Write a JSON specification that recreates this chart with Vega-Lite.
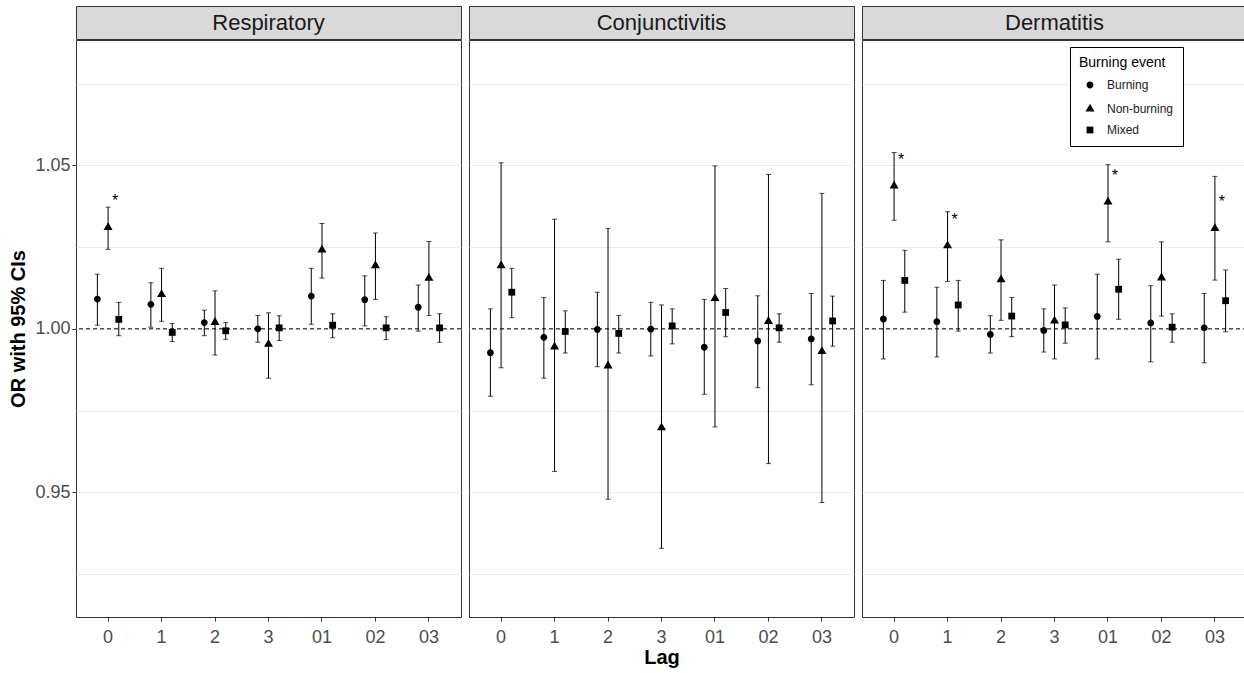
{
  "$schema": "https://vega.github.io/schema/vega-lite/v6.json",
  "padding": {"left": 8, "top": 5, "right": 0, "bottom": 0},
  "background": "white",
  "config": {
    "font": "Liberation Sans",
    "view": {"stroke": "#333333", "strokeWidth": 1},
    "axis": {
      "labelFont": "Liberation Sans", "labelFontSize": 18, "labelColor": "#4D4D4D",
      "tickColor": "#333333", "tickSize": 4, "tickWidth": 1,
      "gridColor": "#EBEBEB", "gridWidth": 1, "domain": false,
      "titleFont": "Liberation Sans", "titleFontSize": 20, "titleFontWeight": "bold", "titleColor": "black",
      "labelPadding": 2
    },
    "axisX": {"labelPadding": 7},
    "legend": {
      "orient": "none", "legendX": 994, "legendY": 41,
      "strokeColor": "black", "fillColor": "white", "padding": 9,
      "titleFont": "Liberation Sans", "titleFontSize": 14, "titleFontWeight": "normal", "titleColor": "black",
      "labelFont": "Liberation Sans", "labelFontSize": 12, "labelColor": "#1A1A1A",
      "symbolSize": 64, "symbolFillColor": "black", "symbolStrokeColor": "black",
      "rowPadding": 8, "symbolOffset": 5, "labelOffset": 11, "titlePadding": 9
    }
  },
  "data": {"values": [
    {"outcome":"Respiratory","lag":"0","event":"Burning","or":1.0091,"lo":1.0011,"hi":1.0167,"sig":""},
    {"outcome":"Respiratory","lag":"0","event":"Non-burning","or":1.0310,"lo":1.0243,"hi":1.0372,"sig":"*"},
    {"outcome":"Respiratory","lag":"0","event":"Mixed","or":1.0029,"lo":0.9979,"hi":1.0081,"sig":""},
    {"outcome":"Respiratory","lag":"1","event":"Burning","or":1.0075,"lo":1.0005,"hi":1.0141,"sig":""},
    {"outcome":"Respiratory","lag":"1","event":"Non-burning","or":1.0105,"lo":1.0023,"hi":1.0185,"sig":""},
    {"outcome":"Respiratory","lag":"1","event":"Mixed","or":0.9989,"lo":0.9961,"hi":1.0016,"sig":""},
    {"outcome":"Respiratory","lag":"2","event":"Burning","or":1.0019,"lo":0.9979,"hi":1.0057,"sig":""},
    {"outcome":"Respiratory","lag":"2","event":"Non-burning","or":1.0020,"lo":0.9920,"hi":1.0116,"sig":""},
    {"outcome":"Respiratory","lag":"2","event":"Mixed","or":0.9994,"lo":0.9968,"hi":1.0019,"sig":""},
    {"outcome":"Respiratory","lag":"3","event":"Burning","or":1.0000,"lo":0.9959,"hi":1.0041,"sig":""},
    {"outcome":"Respiratory","lag":"3","event":"Non-burning","or":0.9953,"lo":0.9849,"hi":1.0049,"sig":""},
    {"outcome":"Respiratory","lag":"3","event":"Mixed","or":1.0003,"lo":0.9964,"hi":1.0040,"sig":""},
    {"outcome":"Respiratory","lag":"01","event":"Burning","or":1.0100,"lo":1.0014,"hi":1.0185,"sig":""},
    {"outcome":"Respiratory","lag":"01","event":"Non-burning","or":1.0241,"lo":1.0155,"hi":1.0322,"sig":""},
    {"outcome":"Respiratory","lag":"01","event":"Mixed","or":1.0011,"lo":0.9973,"hi":1.0046,"sig":""},
    {"outcome":"Respiratory","lag":"02","event":"Burning","or":1.0089,"lo":1.0009,"hi":1.0162,"sig":""},
    {"outcome":"Respiratory","lag":"02","event":"Non-burning","or":1.0193,"lo":1.0090,"hi":1.0293,"sig":""},
    {"outcome":"Respiratory","lag":"02","event":"Mixed","or":1.0003,"lo":0.9967,"hi":1.0037,"sig":""},
    {"outcome":"Respiratory","lag":"03","event":"Burning","or":1.0066,"lo":0.9993,"hi":1.0134,"sig":""},
    {"outcome":"Respiratory","lag":"03","event":"Non-burning","or":1.0155,"lo":1.0041,"hi":1.0267,"sig":""},
    {"outcome":"Respiratory","lag":"03","event":"Mixed","or":1.0003,"lo":0.9959,"hi":1.0046,"sig":""},
    {"outcome":"Conjunctivitis","lag":"0","event":"Burning","or":0.9927,"lo":0.9794,"hi":1.0061,"sig":""},
    {"outcome":"Conjunctivitis","lag":"0","event":"Non-burning","or":1.0193,"lo":0.9881,"hi":1.0508,"sig":""},
    {"outcome":"Conjunctivitis","lag":"0","event":"Mixed","or":1.0112,"lo":1.0034,"hi":1.0185,"sig":""},
    {"outcome":"Conjunctivitis","lag":"1","event":"Burning","or":0.9974,"lo":0.9849,"hi":1.0096,"sig":""},
    {"outcome":"Conjunctivitis","lag":"1","event":"Non-burning","or":0.9945,"lo":0.9564,"hi":1.0335,"sig":""},
    {"outcome":"Conjunctivitis","lag":"1","event":"Mixed","or":0.9992,"lo":0.9926,"hi":1.0055,"sig":""},
    {"outcome":"Conjunctivitis","lag":"2","event":"Burning","or":0.9998,"lo":0.9884,"hi":1.0112,"sig":""},
    {"outcome":"Conjunctivitis","lag":"2","event":"Non-burning","or":0.9887,"lo":0.9479,"hi":1.0307,"sig":""},
    {"outcome":"Conjunctivitis","lag":"2","event":"Mixed","or":0.9986,"lo":0.9926,"hi":1.0041,"sig":""},
    {"outcome":"Conjunctivitis","lag":"3","event":"Burning","or":0.9999,"lo":0.9917,"hi":1.0081,"sig":""},
    {"outcome":"Conjunctivitis","lag":"3","event":"Non-burning","or":0.9698,"lo":0.9329,"hi":1.0073,"sig":""},
    {"outcome":"Conjunctivitis","lag":"3","event":"Mixed","or":1.0009,"lo":0.9954,"hi":1.0061,"sig":""},
    {"outcome":"Conjunctivitis","lag":"01","event":"Burning","or":0.9944,"lo":0.9800,"hi":1.0090,"sig":""},
    {"outcome":"Conjunctivitis","lag":"01","event":"Non-burning","or":1.0093,"lo":0.9700,"hi":1.0498,"sig":""},
    {"outcome":"Conjunctivitis","lag":"01","event":"Mixed","or":1.0050,"lo":0.9976,"hi":1.0123,"sig":""},
    {"outcome":"Conjunctivitis","lag":"02","event":"Burning","or":0.9963,"lo":0.9820,"hi":1.0101,"sig":""},
    {"outcome":"Conjunctivitis","lag":"02","event":"Non-burning","or":1.0023,"lo":0.9588,"hi":1.0472,"sig":""},
    {"outcome":"Conjunctivitis","lag":"02","event":"Mixed","or":1.0003,"lo":0.9959,"hi":1.0046,"sig":""},
    {"outcome":"Conjunctivitis","lag":"03","event":"Burning","or":0.9969,"lo":0.9829,"hi":1.0108,"sig":""},
    {"outcome":"Conjunctivitis","lag":"03","event":"Non-burning","or":0.9931,"lo":0.9469,"hi":1.0414,"sig":""},
    {"outcome":"Conjunctivitis","lag":"03","event":"Mixed","or":1.0024,"lo":0.9947,"hi":1.0100,"sig":""},
    {"outcome":"Dermatitis","lag":"0","event":"Burning","or":1.0030,"lo":0.9908,"hi":1.0148,"sig":""},
    {"outcome":"Dermatitis","lag":"0","event":"Non-burning","or":1.0437,"lo":1.0332,"hi":1.0539,"sig":"*"},
    {"outcome":"Dermatitis","lag":"0","event":"Mixed","or":1.0148,"lo":1.0051,"hi":1.0240,"sig":""},
    {"outcome":"Dermatitis","lag":"1","event":"Burning","or":1.0022,"lo":0.9914,"hi":1.0127,"sig":""},
    {"outcome":"Dermatitis","lag":"1","event":"Non-burning","or":1.0254,"lo":1.0145,"hi":1.0358,"sig":"*"},
    {"outcome":"Dermatitis","lag":"1","event":"Mixed","or":1.0073,"lo":0.9993,"hi":1.0148,"sig":""},
    {"outcome":"Dermatitis","lag":"2","event":"Burning","or":0.9983,"lo":0.9926,"hi":1.0040,"sig":""},
    {"outcome":"Dermatitis","lag":"2","event":"Non-burning","or":1.0150,"lo":1.0026,"hi":1.0272,"sig":""},
    {"outcome":"Dermatitis","lag":"2","event":"Mixed","or":1.0039,"lo":0.9976,"hi":1.0096,"sig":""},
    {"outcome":"Dermatitis","lag":"3","event":"Burning","or":0.9995,"lo":0.9929,"hi":1.0061,"sig":""},
    {"outcome":"Dermatitis","lag":"3","event":"Non-burning","or":1.0024,"lo":0.9908,"hi":1.0134,"sig":""},
    {"outcome":"Dermatitis","lag":"3","event":"Mixed","or":1.0012,"lo":0.9956,"hi":1.0064,"sig":""},
    {"outcome":"Dermatitis","lag":"01","event":"Burning","or":1.0038,"lo":0.9908,"hi":1.0167,"sig":""},
    {"outcome":"Dermatitis","lag":"01","event":"Non-burning","or":1.0388,"lo":1.0266,"hi":1.0502,"sig":"*"},
    {"outcome":"Dermatitis","lag":"01","event":"Mixed","or":1.0121,"lo":1.0029,"hi":1.0213,"sig":""},
    {"outcome":"Dermatitis","lag":"02","event":"Burning","or":1.0018,"lo":0.9899,"hi":1.0132,"sig":""},
    {"outcome":"Dermatitis","lag":"02","event":"Non-burning","or":1.0156,"lo":1.0039,"hi":1.0266,"sig":""},
    {"outcome":"Dermatitis","lag":"02","event":"Mixed","or":1.0005,"lo":0.9959,"hi":1.0046,"sig":""},
    {"outcome":"Dermatitis","lag":"03","event":"Burning","or":1.0003,"lo":0.9896,"hi":1.0108,"sig":""},
    {"outcome":"Dermatitis","lag":"03","event":"Non-burning","or":1.0307,"lo":1.0149,"hi":1.0466,"sig":"*"},
    {"outcome":"Dermatitis","lag":"03","event":"Mixed","or":1.0086,"lo":0.9991,"hi":1.0180,"sig":""}
  ]},
  "spacing": 6,
  "hconcat": [
    {
      "spacing": -1,
      "vconcat": [
        {
          "width": 385, "height": 33,
          "view": {"fill": "#D9D9D9", "stroke": "#333333"},
          "transform": [{"filter": "datum.outcome == 'Respiratory' && datum.lag == '0' && datum.event == 'Burning'"}],
          "mark": {"type": "text", "fontSize": 22, "color": "#1A1A1A", "baseline": "middle", "font": "Liberation Sans"},
          "encoding": {"x": {"field": "outcome", "type": "nominal", "axis": null}, "text": {"field": "outcome"}}
        },
        {
          "width": 385, "height": 577,
          "transform": [{"filter": "datum.outcome == 'Respiratory'"}],
          "layer": [
            {
              "mark": {"type": "rule", "color": "black", "strokeWidth": 1},
              "encoding": {
                "x": {"field": "lag", "type": "nominal", "sort": ["0","1","2","3","01","02","03"], "scale": {"type": "band", "paddingInner": 0, "paddingOuter": 0.1}, "axis": {"title": null, "labelAngle": 0}},
                "xOffset": {"field": "event", "type": "nominal", "sort": ["Burning","Non-burning","Mixed"], "scale": {"paddingInner": 0, "paddingOuter": 1.5}},
                "y": {"field": "lo", "type": "quantitative", "scale": {"domain": [0.9119, 1.0883], "nice": false, "zero": false},
                  "axis": {"title": "OR with 95% CIs", "titlePadding": 6, "values": [0.925,0.95,0.975,1,1.025,1.05,1.075],
                    "labelExpr": "(datum.value == 0.95 || datum.value == 1 || datum.value == 1.05) ? format(datum.value, '.2f') : ''",
                    "tickOpacity": {"condition": {"test": "datum.value == 0.95 || datum.value == 1 || datum.value == 1.05", "value": 1}, "value": 0}}},
                "y2": {"field": "hi"}
              }
            },
            {
              "mark": {"type": "tick", "color": "black", "thickness": 1, "size": 5, "orient": "horizontal"},
              "encoding": {
                "x": {"field": "lag", "type": "nominal", "sort": ["0","1","2","3","01","02","03"]},
                "xOffset": {"field": "event", "type": "nominal", "sort": ["Burning","Non-burning","Mixed"]},
                "y": {"field": "lo", "type": "quantitative"}
              }
            },
            {
              "mark": {"type": "tick", "color": "black", "thickness": 1, "size": 5, "orient": "horizontal"},
              "encoding": {
                "x": {"field": "lag", "type": "nominal", "sort": ["0","1","2","3","01","02","03"]},
                "xOffset": {"field": "event", "type": "nominal", "sort": ["Burning","Non-burning","Mixed"]},
                "y": {"field": "hi", "type": "quantitative"}
              }
            },
            {
              "transform": [{"filter": "datum.lag == '0' && datum.event == 'Burning'"}],
              "mark": {"type": "rule", "color": "black", "strokeWidth": 1, "strokeDash": [4, 3]},
              "encoding": {"y": {"datum": 1, "type": "quantitative"}}
            },
            {
              "mark": {"type": "point", "filled": true, "color": "black", "size": 64, "opacity": 1},
              "encoding": {
                "x": {"field": "lag", "type": "nominal", "sort": ["0","1","2","3","01","02","03"]},
                "xOffset": {"field": "event", "type": "nominal", "sort": ["Burning","Non-burning","Mixed"]},
                "y": {"field": "or", "type": "quantitative"},
                "shape": {"field": "event", "type": "nominal", "title": "Burning event", "sort": ["Burning","Non-burning","Mixed"], "scale": {"domain": ["Burning","Non-burning","Mixed"], "range": ["M-0.85,0A0.85,0.85,0,1,0,0.85,0A0.85,0.85,0,1,0,-0.85,0Z","M0,-1.3L1.125,0.65L-1.125,0.65Z","M-0.85,-0.85H0.85V0.85H-0.85Z"]}}
              }
            },
            {
              "transform": [{"filter": "datum.sig == '*'"}],
              "mark": {"type": "text", "fontSize": 16, "color": "black", "baseline": "middle", "dx": 7, "dy": -26},
              "encoding": {
                "x": {"field": "lag", "type": "nominal", "sort": ["0","1","2","3","01","02","03"]},
                "xOffset": {"field": "event", "type": "nominal", "sort": ["Burning","Non-burning","Mixed"]},
                "y": {"field": "or", "type": "quantitative"},
                "text": {"field": "sig"}
              }
            }
          ]
        }
      ]
    },
    {
      "spacing": -1,
      "vconcat": [
        {
          "width": 385, "height": 33,
          "view": {"fill": "#D9D9D9", "stroke": "#333333"},
          "transform": [{"filter": "datum.outcome == 'Conjunctivitis' && datum.lag == '0' && datum.event == 'Burning'"}],
          "mark": {"type": "text", "fontSize": 22, "color": "#1A1A1A", "baseline": "middle", "font": "Liberation Sans"},
          "encoding": {"x": {"field": "outcome", "type": "nominal", "axis": null}, "text": {"field": "outcome"}}
        },
        {
          "width": 385, "height": 577,
          "transform": [{"filter": "datum.outcome == 'Conjunctivitis'"}],
          "layer": [
            {
              "mark": {"type": "rule", "color": "black", "strokeWidth": 1},
              "encoding": {
                "x": {"field": "lag", "type": "nominal", "sort": ["0","1","2","3","01","02","03"], "scale": {"type": "band", "paddingInner": 0, "paddingOuter": 0.1}, "axis": {"title": "Lag", "labelAngle": 0, "titlePadding": 1}},
                "xOffset": {"field": "event", "type": "nominal", "sort": ["Burning","Non-burning","Mixed"], "scale": {"paddingInner": 0, "paddingOuter": 1.5}},
                "y": {"field": "lo", "type": "quantitative", "scale": {"domain": [0.9119, 1.0883], "nice": false, "zero": false},
                  "axis": {"title": null, "labels": false, "ticks": false, "values": [0.925,0.95,0.975,1,1.025,1.05,1.075]}},
                "y2": {"field": "hi"}
              }
            },
            {
              "mark": {"type": "tick", "color": "black", "thickness": 1, "size": 5, "orient": "horizontal"},
              "encoding": {
                "x": {"field": "lag", "type": "nominal", "sort": ["0","1","2","3","01","02","03"]},
                "xOffset": {"field": "event", "type": "nominal", "sort": ["Burning","Non-burning","Mixed"]},
                "y": {"field": "lo", "type": "quantitative"}
              }
            },
            {
              "mark": {"type": "tick", "color": "black", "thickness": 1, "size": 5, "orient": "horizontal"},
              "encoding": {
                "x": {"field": "lag", "type": "nominal", "sort": ["0","1","2","3","01","02","03"]},
                "xOffset": {"field": "event", "type": "nominal", "sort": ["Burning","Non-burning","Mixed"]},
                "y": {"field": "hi", "type": "quantitative"}
              }
            },
            {
              "transform": [{"filter": "datum.lag == '0' && datum.event == 'Burning'"}],
              "mark": {"type": "rule", "color": "black", "strokeWidth": 1, "strokeDash": [4, 3]},
              "encoding": {"y": {"datum": 1, "type": "quantitative"}}
            },
            {
              "mark": {"type": "point", "filled": true, "color": "black", "size": 64, "opacity": 1},
              "encoding": {
                "x": {"field": "lag", "type": "nominal", "sort": ["0","1","2","3","01","02","03"]},
                "xOffset": {"field": "event", "type": "nominal", "sort": ["Burning","Non-burning","Mixed"]},
                "y": {"field": "or", "type": "quantitative"},
                "shape": {"field": "event", "type": "nominal", "title": "Burning event", "sort": ["Burning","Non-burning","Mixed"], "scale": {"domain": ["Burning","Non-burning","Mixed"], "range": ["M-0.85,0A0.85,0.85,0,1,0,0.85,0A0.85,0.85,0,1,0,-0.85,0Z","M0,-1.3L1.125,0.65L-1.125,0.65Z","M-0.85,-0.85H0.85V0.85H-0.85Z"]}}
              }
            }
          ]
        }
      ]
    },
    {
      "spacing": -1,
      "vconcat": [
        {
          "width": 385, "height": 33,
          "view": {"fill": "#D9D9D9", "stroke": "#333333"},
          "transform": [{"filter": "datum.outcome == 'Dermatitis' && datum.lag == '0' && datum.event == 'Burning'"}],
          "mark": {"type": "text", "fontSize": 22, "color": "#1A1A1A", "baseline": "middle", "font": "Liberation Sans"},
          "encoding": {"x": {"field": "outcome", "type": "nominal", "axis": null}, "text": {"field": "outcome"}}
        },
        {
          "width": 385, "height": 577,
          "transform": [{"filter": "datum.outcome == 'Dermatitis'"}],
          "layer": [
            {
              "mark": {"type": "rule", "color": "black", "strokeWidth": 1},
              "encoding": {
                "x": {"field": "lag", "type": "nominal", "sort": ["0","1","2","3","01","02","03"], "scale": {"type": "band", "paddingInner": 0, "paddingOuter": 0.1}, "axis": {"title": null, "labelAngle": 0}},
                "xOffset": {"field": "event", "type": "nominal", "sort": ["Burning","Non-burning","Mixed"], "scale": {"paddingInner": 0, "paddingOuter": 1.5}},
                "y": {"field": "lo", "type": "quantitative", "scale": {"domain": [0.9119, 1.0883], "nice": false, "zero": false},
                  "axis": {"title": null, "labels": false, "ticks": false, "values": [0.925,0.95,0.975,1,1.025,1.05,1.075]}},
                "y2": {"field": "hi"}
              }
            },
            {
              "mark": {"type": "tick", "color": "black", "thickness": 1, "size": 5, "orient": "horizontal"},
              "encoding": {
                "x": {"field": "lag", "type": "nominal", "sort": ["0","1","2","3","01","02","03"]},
                "xOffset": {"field": "event", "type": "nominal", "sort": ["Burning","Non-burning","Mixed"]},
                "y": {"field": "lo", "type": "quantitative"}
              }
            },
            {
              "mark": {"type": "tick", "color": "black", "thickness": 1, "size": 5, "orient": "horizontal"},
              "encoding": {
                "x": {"field": "lag", "type": "nominal", "sort": ["0","1","2","3","01","02","03"]},
                "xOffset": {"field": "event", "type": "nominal", "sort": ["Burning","Non-burning","Mixed"]},
                "y": {"field": "hi", "type": "quantitative"}
              }
            },
            {
              "transform": [{"filter": "datum.lag == '0' && datum.event == 'Burning'"}],
              "mark": {"type": "rule", "color": "black", "strokeWidth": 1, "strokeDash": [4, 3]},
              "encoding": {"y": {"datum": 1, "type": "quantitative"}}
            },
            {
              "mark": {"type": "point", "filled": true, "color": "black", "size": 64, "opacity": 1},
              "encoding": {
                "x": {"field": "lag", "type": "nominal", "sort": ["0","1","2","3","01","02","03"]},
                "xOffset": {"field": "event", "type": "nominal", "sort": ["Burning","Non-burning","Mixed"]},
                "y": {"field": "or", "type": "quantitative"},
                "shape": {"field": "event", "type": "nominal", "title": "Burning event", "sort": ["Burning","Non-burning","Mixed"], "scale": {"domain": ["Burning","Non-burning","Mixed"], "range": ["M-0.85,0A0.85,0.85,0,1,0,0.85,0A0.85,0.85,0,1,0,-0.85,0Z","M0,-1.3L1.125,0.65L-1.125,0.65Z","M-0.85,-0.85H0.85V0.85H-0.85Z"]}}
              }
            },
            {
              "transform": [{"filter": "datum.sig == '*'"}],
              "mark": {"type": "text", "fontSize": 16, "color": "black", "baseline": "middle", "dx": 7, "dy": -26},
              "encoding": {
                "x": {"field": "lag", "type": "nominal", "sort": ["0","1","2","3","01","02","03"]},
                "xOffset": {"field": "event", "type": "nominal", "sort": ["Burning","Non-burning","Mixed"]},
                "y": {"field": "or", "type": "quantitative"},
                "text": {"field": "sig"}
              }
            }
          ]
        }
      ]
    }
  ]
}
